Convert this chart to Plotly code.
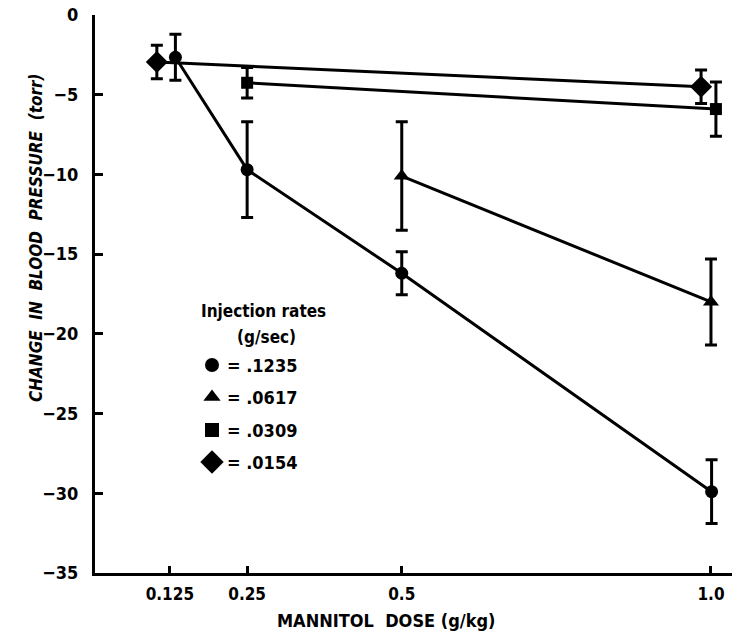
import plotly.graph_objects as go

# Data
dose_circle = [0.125, 0.25, 0.5, 1.0]
bp_circle = [-2.65, -9.7, -16.2, -29.9]
err_circle = [1.45, 3.0, 1.35, 2.0]

dose_triangle = [0.5, 1.0]
bp_triangle = [-10.1, -18.0]
err_triangle = [3.4, 2.7]

dose_square = [0.25, 1.0]
bp_square = [-4.25, -5.9]
err_square = [0.95, 1.7]

dose_diamond = [0.125, 1.0]
bp_diamond = [-2.95, -4.5]
err_diamond = [1.05, 1.05]

rates = [".1235", ".0617", ".0309", ".0154"]
legend_symbols = ["circle", "triangle-up", "square", "diamond"]
legend_sizes = [14, 15, 14, 18]

x_ticks = [0.125, 0.25, 0.5, 1.0]
x_ticktext = ["0.125", "0.25", "0.5", "1.0"]
y_ticks = [0, -5, -10, -15, -20, -25, -30, -35]
y_ticktext = ["0", "−5", "−10", "−15", "−20", "−25", "−30", "−35"]

# small horizontal nudges (display only) to separate overlapping markers
nudge_circle = [0.009, 0, 0, 0.001]
nudge_triangle = [0, 0]
nudge_square = [0, 0.008]
nudge_diamond = [-0.021, -0.016]

FONT = "DejaVu Sans Condensed"

fig = go.Figure()

def add_series(dose, bp, err, nudge, symbol, size):
    fig.add_trace(go.Scatter(
        x=[d + n for d, n in zip(dose, nudge)], y=bp,
        mode="lines+markers",
        line=dict(color="black", width=3),
        marker=dict(symbol=symbol, size=size, color="black", opacity=1),
        error_y=dict(type="data", array=err, visible=True,
                     color="black", thickness=3, width=6),
        showlegend=False, cliponaxis=False,
    ))

add_series(dose_diamond, bp_diamond, err_diamond, nudge_diamond, "diamond", 17)
add_series(dose_square, bp_square, err_square, nudge_square, "square", 12)
add_series(dose_triangle, bp_triangle, err_triangle, nudge_triangle, "triangle-up", 14)
add_series(dose_circle, bp_circle, err_circle, nudge_circle, "circle", 13)

plot_h = 639 - 15 - 66
plot_w = 736 - 95 - 4

def px(x):
    return (x - 95) / plot_w

def py(y):
    return (639 - 66 - y) / plot_h

# legend key markers on an invisible overlay axis spanning the plot area (paper-like)
row_y = [365, 397, 430, 462]
fig.add_trace(go.Scatter(
    x=[px(212)] * 4, y=[py(v) for v in row_y],
    mode="markers", xaxis="x2", yaxis="y2",
    marker=dict(symbol=legend_symbols, size=legend_sizes, color="black", opacity=1,
                line=dict(width=0)),
    showlegend=False, hoverinfo="skip", cliponaxis=False,
))

ann = []
ann.append(dict(text="<b>Injection rates</b>", x=px(199), y=py(311), xref="paper", yref="paper",
                xanchor="left", yanchor="middle", showarrow=False,
                font=dict(family=FONT, size=17, color="black")))
ann.append(dict(text="<b>(g/sec)</b>", x=px(266), y=py(337), xref="paper", yref="paper",
                xanchor="center", yanchor="middle", showarrow=False,
                font=dict(family=FONT, size=17, color="black")))
for r, yy in zip(rates, row_y):
    ann.append(dict(text=f"<b>= {r}</b>",
                    x=px(225), y=py(yy), xref="paper", yref="paper",
                    xanchor="left", yanchor="middle", showarrow=False,
                    font=dict(family=FONT, size=18, color="black")))

ann.append(dict(text="<b><i>CHANGE  IN  BLOOD  PRESSURE  (torr)</i></b>",
                x=px(24), y=py(238), xref="paper", yref="paper", showarrow=False,
                textangle=-90, font=dict(family=FONT, size=17, color="black")))
ann.append(dict(text="<b>MANNITOL  DOSE (g/kg)</b>",
                x=px(386), y=py(620), xref="paper", yref="paper", showarrow=False,
                xanchor="center", yanchor="middle",
                font=dict(family=FONT, size=18, color="black")))

fig.update_layout(
    width=736, height=639,
    margin=dict(l=95, r=4, t=15, b=66),
    paper_bgcolor="white", plot_bgcolor="white",
    annotations=ann,
    xaxis=dict(range=[0.004, 1.034], tickvals=x_ticks,
               ticktext=[f"<b>{t}</b>" for t in x_ticktext],
               showgrid=False, zeroline=False, showline=True, linecolor="black",
               linewidth=3, ticks="inside", ticklen=7, tickwidth=2.5, tickcolor="black",
               tickfont=dict(family=FONT, size=17, color="black"),
               ticklabelstandoff=4),
    yaxis=dict(range=[-35, 0], tickvals=y_ticks,
               ticktext=[f"<b>{t}</b>" for t in y_ticktext],
               showgrid=False, zeroline=False, showline=True, linecolor="black",
               linewidth=3, ticks="inside", ticklen=8, tickwidth=2.5, tickcolor="black",
               tickfont=dict(family=FONT, size=18, color="black"),
               ticklabelstandoff=10),
    xaxis2=dict(range=[0, 1], overlaying="x", visible=False, fixedrange=True),
    yaxis2=dict(range=[0, 1], overlaying="y", visible=False, fixedrange=True),
)

fig.write_html("out.html")
